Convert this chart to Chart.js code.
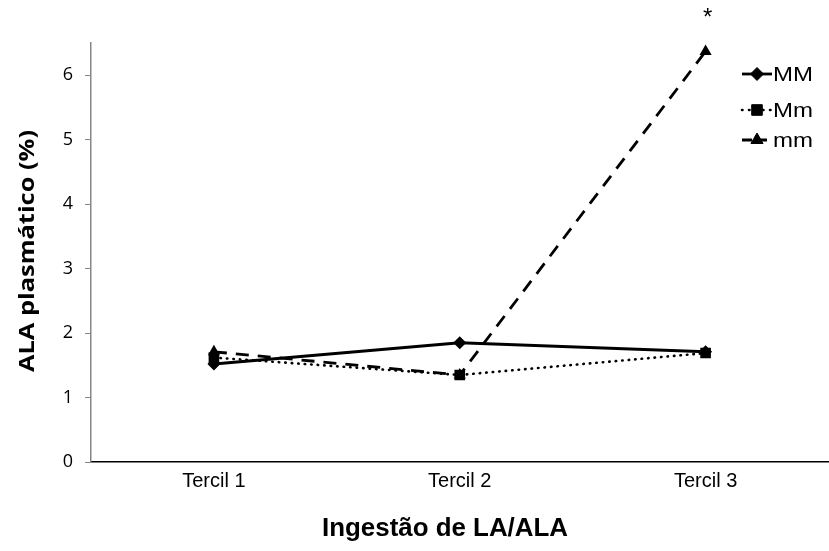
<!DOCTYPE html>
<html>
<head>
<meta charset="utf-8">
<script src="https://cdn.jsdelivr.net/npm/chart.js@4"></script>
<style>
  html, body { margin: 0; padding: 0; background: #fff; overflow: hidden; }
  #wrap { width: 836px; height: 551px; position: relative; }
</style>
</head>
<body>
<div id="wrap"><canvas id="chart"></canvas></div>
<script>
var categories = ['Tercil 1', 'Tercil 2', 'Tercil 3'];
var seriesNames = ['MM', 'Mm', 'mm'];
var valuesMM = [1.52, 1.85, 1.71];
var valuesMm = [1.62, 1.35, 1.69];
var valuesmm = [1.71, 1.35, 6.37];
var yTicks = [0, 1, 2, 3, 4, 5, 6];
var starLabel = '*';

// text squeezed/stretched horizontally to a given width
function fitText(ctx, text, x, y, width, align) {
    var w = ctx.measureText(text).width;
    var k = width / w;
    ctx.save();
    ctx.translate(x, y);
    ctx.scale(k, 1);
    ctx.textAlign = align || 'center';
    ctx.fillText(text, 0, 0);
    ctx.restore();
}

// axis titles + legend + asterisk drawn by hand
var extras = {
    id: 'extras',
    afterDraw: function (chart) {
        var ctx = chart.ctx;
        ctx.save();
        ctx.fillStyle = '#000';
        ctx.textBaseline = 'middle';

        ctx.font = 'bold 25px "Liberation Sans", Arial, sans-serif';
        fitText(ctx, 'Ingestão de LA/ALA', 445, 529, 246);

        ctx.save();
        ctx.translate(28, 251);
        ctx.rotate(-Math.PI / 2);
        ctx.font = 'bold 21px "Open Sans", sans-serif';
        fitText(ctx, 'ALA plasmático (%)', 0, 0, 242);
        ctx.restore();

        // asterisk above the mm point of Tercil 3
        var xs = chart.scales.x, ys = chart.scales.y;
        ctx.font = '24px "Liberation Sans", Arial, sans-serif';
        ctx.textAlign = 'center';
        ctx.fillText(starLabel, xs.getPixelForValue(2) + 2, ys.getPixelForValue(valuesmm[2]) - 33);

        // legend
        var rows = [74, 110, 140];
        chart.data.datasets.forEach(function (ds, i) {
            var y = rows[i];
            ctx.save();
            ctx.strokeStyle = '#000';
            ctx.lineWidth = ds.borderWidth;
            ctx.lineCap = ds.borderCapStyle || 'butt';
            ctx.setLineDash(ds.legendDash || []);
            ctx.beginPath();
            ctx.moveTo(742, y);
            ctx.lineTo(772, y);
            ctx.stroke();
            ctx.restore();
            Chart.helpers.drawPoint(ctx, {
                pointStyle: ds.pointStyle, radius: ds.pointRadius, borderWidth: 1, rotation: 0
            }, 757, y);
            ctx.fillStyle = '#000';
            ctx.font = '20px "Liberation Sans", Arial, sans-serif';
            var w = ctx.measureText(ds.label).width;
            fitText(ctx, ds.label, 773, y + 1, w * 1.2, 'left');
        });
        ctx.restore();
    }
};

new Chart(document.getElementById('chart'), {
    type: 'line',
    data: {
        labels: categories,
        datasets: [
            {
                label: seriesNames[0], data: valuesMM,
                borderColor: '#000', backgroundColor: '#000', borderWidth: 2.8,
                pointStyle: 'rectRot', pointRadius: 6.5, pointBorderWidth: 0
            },
            {
                label: seriesNames[1], data: valuesMm,
                borderColor: '#000', backgroundColor: '#000', borderWidth: 2.6,
                borderDash: [0.5, 6], borderCapStyle: 'round', legendDash: [0.5, 6.5],
                pointStyle: 'rect', pointRadius: 7.5, pointBorderWidth: 0
            },
            {
                label: seriesNames[2], data: valuesmm,
                borderColor: '#000', backgroundColor: '#000', borderWidth: 2.8,
                borderDash: [13, 9], legendDash: [10, 5],
                pointStyle: 'triangle', pointRadius: 7, pointBorderWidth: 0
            }
        ]
    },
    options: {
        responsive: true,
        maintainAspectRatio: false,
        animation: false,
        layout: { padding: { top: 43, left: 0, right: 0, bottom: 0 } },
        plugins: { legend: { display: false }, tooltip: { enabled: false } },
        scales: {
            x: {
                offset: true,
                grid: { display: false, drawTicks: false },
                border: { color: '#000', width: 1.5 },
                ticks: {
                    color: '#000', padding: 7,
                    font: { family: '"Liberation Sans", Arial, sans-serif', size: 20 }
                },
                afterFit: function (s) { s.height = 89; }
            },
            y: {
                min: 0, max: 6.5,
                grid: { drawOnChartArea: false, drawTicks: true, tickLength: 6, color: '#868686' },
                border: { color: '#868686', width: 1.5 },
                ticks: {
                    stepSize: 1, color: '#000', padding: 12,
                    font: { family: '"Open Sans", sans-serif', size: 18 }
                },
                afterBuildTicks: function (s) {
                    s.ticks = yTicks.map(function (v) { return { value: v }; });
                },
                afterFit: function (s) { s.width = 91; }
            }
        }
    },
    plugins: [extras]
});
</script>
</body>
</html>
